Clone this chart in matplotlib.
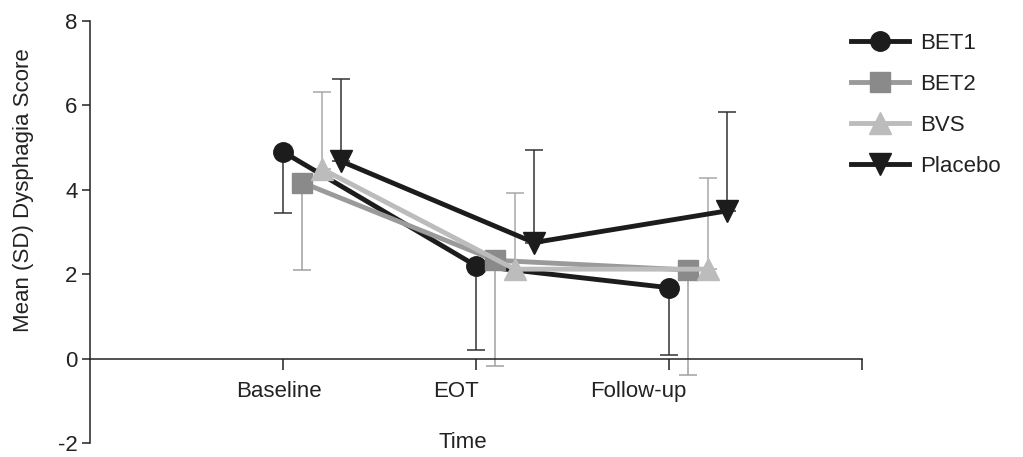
import numpy as np
import matplotlib
matplotlib.use("Agg")
import matplotlib.pyplot as plt
from matplotlib.lines import Line2D

plt.rcParams['font.family'] = ['Liberation Sans', 'DejaVu Sans']
plt.rcParams['axes.unicode_minus'] = False

# data
timepoints = ['Baseline', 'EOT', 'Follow-up']
groups = ['BET1', 'BET2', 'BVS', 'Placebo']
bet1_mean = [4.9, 2.2, 1.68]
bet1_sd = [1.45, 2.0, 1.6]
bet2_mean = [4.17, 2.33, 2.1]
bet2_sd = [2.07, 2.5, 2.5]
bvs_mean = [4.5, 2.12, 2.12]
bvs_sd = [1.82, 1.8, 2.17]
placebo_mean = [4.68, 2.75, 3.5]
placebo_sd = [1.95, 2.2, 2.35]

means = [bet1_mean, bet2_mean, bvs_mean, placebo_mean]
sds = [bet1_sd, bet2_sd, bvs_sd, placebo_sd]
offsets = [0.0, 0.1, 0.2, 0.3]
markers = ['o', 's', '^', 'v']
msizes = [14, 15, 16, 16]
line_cols = ['#1c1c1c', '#9a9a9a', '#bcbcbc', '#1c1c1c']
mark_cols = ['#1c1c1c', '#8a8a8a', '#bcbcbc', '#1c1c1c']
err_cols = ['#333333', '#a0a0a0', '#a8a8a8', '#333333']
err_down = [True, True, False, False]
fs = 16

fig = plt.figure(figsize=(10.23, 4.57), dpi=100)
ax = fig.add_axes([90 / 1023, 1 - 443 / 457, 772 / 1023, 422 / 457])

base_x = np.arange(1, len(timepoints) + 1)
for i, g in enumerate(groups):
    x = base_x + offsets[i]
    m = np.array(means[i])
    s = np.array(sds[i])
    if err_down[i]:
        yerr = [s, np.zeros_like(s)]
    else:
        yerr = [np.zeros_like(s), s]
    ax.errorbar(x, m, yerr=yerr, fmt='none', ecolor=err_cols[i],
                elinewidth=1.1, capsize=6.5, capthick=1.1, zorder=1 + i * 0.1)
    ax.plot(x, m, color=line_cols[i], lw=3.5, marker=markers[i],
            ms=msizes[i], mfc=mark_cols[i], mec=mark_cols[i], zorder=2 + i)

ax.set_xlim(0, 4)
ax.set_ylim(-2, 8)
ax.set_yticks([-2, 0, 2, 4, 6, 8])
ax.set_xticks([1, 2, 3, 4])
ax.set_xticklabels([])
ax.set_xticks([0.98, 1.895, 2.84], minor=True)
ax.set_xticklabels(timepoints, minor=True)

for sp in ['top', 'right']:
    ax.spines[sp].set_visible(False)
ax.spines['bottom'].set_position(('data', 0))
for sp in ['left', 'bottom']:
    ax.spines[sp].set_color('#222222')
    ax.spines[sp].set_linewidth(1.1)

ax.tick_params(axis='y', direction='out', length=6, width=1.1, color='#222222',
               labelsize=fs, labelcolor='#222222', pad=3)
ax.tick_params(axis='x', which='major', direction='out', length=8, width=1.1,
               color='#222222')
ax.tick_params(axis='x', which='minor', length=0, labelsize=fs,
               labelcolor='#222222', pad=16)

fig.text(463 / 1023, 1 - 443 / 457, 'Time', ha='center', va='center',
         fontsize=fs, color='#222222')
fig.text(24 / 1023, 1 - 190 / 457, 'Mean (SD) Dysphagia Score', ha='center',
         va='center', rotation=90, fontsize=fs, color='#222222')

handles = [Line2D([0], [0], color=line_cols[i], lw=3.5, marker=markers[i],
                  ms=msizes[i], mfc=mark_cols[i], mec=mark_cols[i])
           for i in range(len(groups))]
fig.legend(handles, groups, loc='upper left',
           bbox_to_anchor=(851 / 1023, 1 - 33 / 457), frameon=False,
           fontsize=fs, handlelength=2.6, handletextpad=0.5,
           labelspacing=0.9, borderaxespad=0, borderpad=0,
           labelcolor='#222222')

fig.savefig('out.png', dpi=100)
